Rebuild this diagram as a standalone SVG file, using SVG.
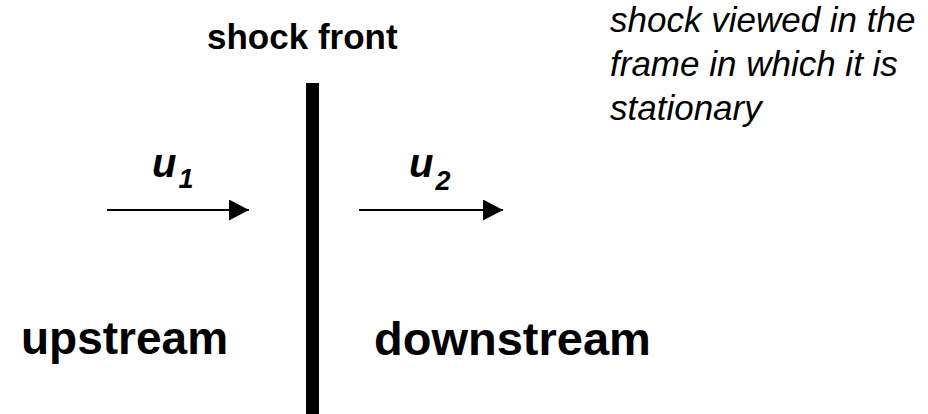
<svg xmlns="http://www.w3.org/2000/svg" width="928" height="414" viewBox="0 0 928 414">
<style>
.b{font-family:"Liberation Sans",Arial,sans-serif;font-weight:bold;fill:#000}
.i{font-family:"Liberation Sans",Arial,sans-serif;font-style:italic;fill:#000}
.bi{font-family:"Liberation Sans",Arial,sans-serif;font-style:italic;font-weight:bold;fill:#000}
.arrow{stroke:#000;stroke-width:2;fill:none}
</style>
<defs>
<marker id="ah" markerWidth="20" markerHeight="21" refX="20" refY="10.5" orient="auto" markerUnits="userSpaceOnUse">
<path d="M0,0 L20,10.5 L0,21 Z" fill="#000"/>
</marker>
</defs>
<rect width="928" height="414" fill="#fff"/>
<g id="shock-front">
<rect x="306" y="83" width="13" height="331" fill="#000"/>
<text class="b" x="207" y="49" font-size="35">shock front</text>
</g>
<g id="caption">
<text class="i" x="610" y="32" font-size="35">shock viewed in the</text>
<text class="i" x="610" y="76" font-size="35">frame in which it is</text>
<text class="i" x="610" y="120" font-size="35">stationary</text>
</g>
<g id="upstream">
<text class="b" x="21" y="354" font-size="46">upstream</text>
<text class="bi" x="152" y="177" font-size="40">u<tspan font-size="27" dx="2" dy="11">1</tspan></text>
</g>
<g id="downstream">
<text class="b" x="374" y="355" font-size="47">downstream</text>
<text class="bi" x="409" y="177" font-size="40">u<tspan font-size="27" dx="2" dy="13">2</tspan></text>
</g>
<g id="connectors">
<line class="arrow" x1="107" y1="210" x2="249" y2="210" marker-end="url(#ah)"/>
<line class="arrow" x1="359" y1="210" x2="503" y2="210" marker-end="url(#ah)"/>
</g>
</svg>
